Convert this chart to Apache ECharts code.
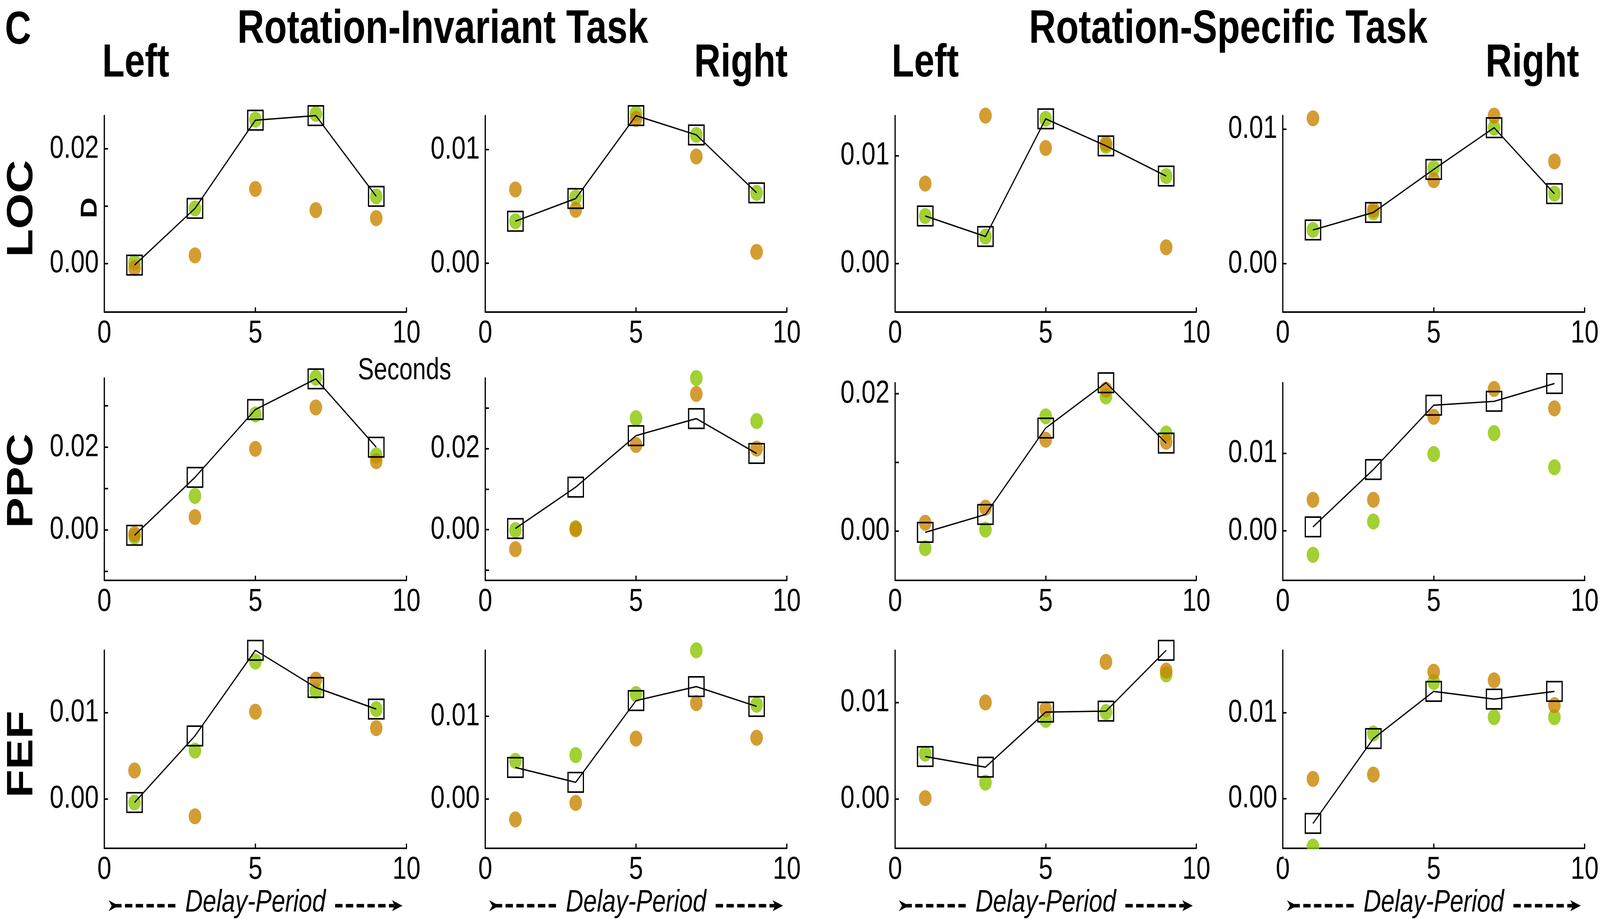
<!DOCTYPE html>
<html><head><meta charset="utf-8">
<script src="https://cdn.jsdelivr.net/npm/echarts@6/dist/echarts.min.js"></script>
<style>
html,body{margin:0;padding:0;background:#fff;overflow:hidden;width:100%;height:100%}
#c{position:absolute;left:0;top:0;width:5200px;height:2353px;transform-origin:0 0}
</style>
</head><body><div id="c"></div>
<script>
// ---- data ----
const xs = [1, 3, 5, 7, 9];
const xTickLabels = [0, 5, 10];

// Rotation-Invariant task
const riLocLeftMean   = [-0.0003, 0.0096, 0.0250, 0.0258, 0.0117];
const riLocLeftGreen  = [0.0002, 0.0096, 0.0251, 0.0261, 0.0117];
const riLocLeftOrange = [-0.0008, 0.0014, 0.0130, 0.0093, 0.0079];
const riLocRightMean   = [0.0037, 0.0057, 0.0130, 0.0113, 0.0062];
const riLocRightGreen  = [0.0037, 0.0058, 0.0132, 0.0113, 0.0062];
const riLocRightOrange = [0.0065, 0.0047, 0.0127, 0.0094, 0.0010];
const riPpcLeftMean   = [-0.0013, 0.0127, 0.0291, 0.0365, 0.0200];
const riPpcLeftGreen  = [-0.0016, 0.0082, 0.0279, 0.0368, 0.0180];
const riPpcLeftOrange = [-0.0010, 0.0031, 0.0196, 0.0296, 0.0166];
const riPpcRightMean   = [0.0003, 0.0105, 0.0232, 0.0274, 0.0188];
const riPpcRightGreen  = [-0.0001, 0.0004, 0.0275, 0.0374, 0.0268];
const riPpcRightOrange = [-0.0048, 0.0001, 0.0209, 0.0335, 0.0200];
const riFefLeftMean   = [-0.0004, 0.0073, 0.0172, 0.0129, 0.0104];
const riFefLeftGreen  = [-0.0004, 0.0056, 0.0159, 0.0125, 0.0104];
const riFefLeftOrange = [0.0033, -0.0020, 0.0101, 0.0138, 0.0082];
const riFefRightMean   = [0.0038, 0.0020, 0.0119, 0.0136, 0.0112];
const riFefRightGreen  = [0.0046, 0.0053, 0.0127, 0.0180, 0.0114];
const riFefRightOrange = [-0.0025, -0.0005, 0.0073, 0.0116, 0.0074];

// Rotation-Specific task
const rsLocLeftMean   = [0.0044, 0.0025, 0.0134, 0.0109, 0.0081];
const rsLocLeftGreen  = [0.0044, 0.0025, 0.0134, 0.0109, 0.0081];
const rsLocLeftOrange = [0.0074, 0.0137, 0.0107, 0.0111, 0.0015];
const rsLocRightMean   = [0.0025, 0.0038, 0.0070, 0.0101, 0.0052];
const rsLocRightGreen  = [0.0025, 0.0038, 0.0071, 0.0101, 0.0052];
const rsLocRightOrange = [0.0108, 0.0040, 0.0062, 0.0110, 0.0076];
const rsPpcLeftMean   = [-0.0002, 0.0024, 0.0150, 0.0216, 0.0128];
const rsPpcLeftGreen  = [-0.0025, 0.0002, 0.0167, 0.0196, 0.0142];
const rsPpcLeftOrange = [0.0012, 0.0034, 0.0133, 0.0206, 0.0130];
const rsPpcRightMean   = [0.0005, 0.0079, 0.0162, 0.0167, 0.0190];
const rsPpcRightGreen  = [-0.0031, 0.0012, 0.0099, 0.0126, 0.0082];
const rsPpcRightOrange = [0.0040, 0.0040, 0.0147, 0.0183, 0.0158];
const rsFefLeftMean   = [0.0044, 0.0033, 0.0090, 0.0091, 0.0154];
const rsFefLeftGreen  = [0.0047, 0.0017, 0.0082, 0.0090, 0.0129];
const rsFefLeftOrange = [0.0001, 0.0100, 0.0093, 0.0142, 0.0133];
const rsFefRightMean   = [-0.0029, 0.0070, 0.0125, 0.0116, 0.0125];
const rsFefRightGreen  = [-0.0056, 0.0076, 0.0136, 0.0095, 0.0095];
const rsFefRightOrange = [0.0023, 0.0028, 0.0148, 0.0138, 0.0109];

// y ranges (row-major: LOC, PPC, FEF; columns RI-L, RI-R, RS-L, RS-R)
const yMins = [-0.0085, -0.0043, -0.0045, -0.0036,
               -0.0122, -0.0125, -0.0072, -0.0064,
               -0.0057, -0.0060, -0.0051, -0.0058];
const yMaxs = [0.0258, 0.0130, 0.0137, 0.0110,
               0.0367, 0.0374, 0.0216, 0.0191,
               0.0172, 0.0180, 0.0154, 0.0173];
const ticksA = [0, 0.01, 0.02];
const ticksB = [0, 0.01];
const ticksC = [-0.01, 0, 0.01, 0.02, 0.03];
const labelsA = [0, 0.02];
const labelsB = [0, 0.01];
const yTicks  = [ticksA, ticksB, ticksB, ticksB, ticksC, ticksC, ticksA, ticksB, ticksB, ticksB, ticksB, ticksB];
const yLabels = [labelsA, labelsB, labelsB, labelsB, labelsA, labelsA, labelsA, labelsB, labelsB, labelsB, labelsB, labelsB];

const meanSets = [riLocLeftMean, riLocRightMean, rsLocLeftMean, rsLocRightMean,
                  riPpcLeftMean, riPpcRightMean, rsPpcLeftMean, rsPpcRightMean,
                  riFefLeftMean, riFefRightMean, rsFefLeftMean, rsFefRightMean];
const greenSets = [riLocLeftGreen, riLocRightGreen, rsLocLeftGreen, rsLocRightGreen,
                   riPpcLeftGreen, riPpcRightGreen, rsPpcLeftGreen, rsPpcRightGreen,
                   riFefLeftGreen, riFefRightGreen, rsFefLeftGreen, rsFefRightGreen];
const orangeSets = [riLocLeftOrange, riLocRightOrange, rsLocLeftOrange, rsLocRightOrange,
                    riPpcLeftOrange, riPpcRightOrange, rsPpcLeftOrange, rsPpcRightOrange,
                    riFefLeftOrange, riFefRightOrange, rsFefLeftOrange, rsFefRightOrange];

// ---- layout: drawn on a 5200 x 2353 canvas, then fitted to the window ----
const box = document.getElementById('c');
const W = window.innerWidth || 5200, H = window.innerHeight || 2353;
box.style.transform = 'scale(' + (W / 5200) + ',' + (H / 2353) + ')';

const FONT = "'Liberation Sans', Arial, Helvetica, sans-serif";
const colLeft  = [339, 1577, 2909, 4169];
const colRight = [1321, 2557, 3888, 5150];
const rowTop = [[296, 296, 296, 296], [968, 968, 980, 980], [1665, 1665, 1665, 1665]];
const rowBottom = [799, 1486, 2172];
const GREEN = '#8AC600';
const ORANGE = '#C98400';

const pair = (ys) => xs.map((x, i) => [x, ys[i]]);

const grids = [], xAxes = [], yAxes = [], series = [];
for (let r = 0; r < 3; r++) {
  for (let c = 0; c < 4; c++) {
    const i = r * 4 + c;
    grids.push({
      left: colLeft[c], top: rowTop[r][c],
      width: colRight[c] - colLeft[c], height: rowBottom[r] - rowTop[r][c],
      containLabel: false, outerBoundsMode: 'none', show: false
    });
    xAxes.push({
      gridIndex: i, type: 'value', min: 0, max: 10,
      axisLine: { show: true, onZero: false, lineStyle: { color: '#000', width: 4 } },
      axisTick: { show: true, inside: true, length: 12, customValues: [5, 10], lineStyle: { color: '#000', width: 4 } },
      axisLabel: { show: true, customValues: xTickLabels, formatter: (v) => String(Math.round(v)),
                   fontSize: 82, fontFamily: FONT, color: '#000', margin: 14 },
      splitLine: { show: false }
    });
    yAxes.push({
      gridIndex: i, type: 'value', min: yMins[i], max: yMaxs[i],
      axisLine: { show: true, onZero: false, lineStyle: { color: '#000', width: 4 } },
      axisTick: { show: true, inside: true, length: 12, customValues: yTicks[i], lineStyle: { color: '#000', width: 4 } },
      axisLabel: { show: true, customValues: yLabels[i], formatter: (v) => Math.abs(v) < 1e-9 ? '0.00' : v.toFixed(2),
                   fontSize: 82, fontFamily: FONT, color: '#000', margin: 18 },
      splitLine: { show: false }
    });
    series.push({
      type: 'scatter', xAxisIndex: i, yAxisIndex: i, data: pair(greenSets[i]),
      symbol: 'circle', symbolSize: 41, itemStyle: { color: GREEN }, clip: false, z: 2, silent: true
    });
    series.push({
      type: 'scatter', xAxisIndex: i, yAxisIndex: i, data: pair(orangeSets[i]),
      symbol: 'circle', symbolSize: 41, itemStyle: { color: ORANGE }, clip: false, z: 3, silent: true
    });
    series.push({
      type: 'line', xAxisIndex: i, yAxisIndex: i, data: pair(meanSets[i]),
      symbol: 'rect', symbolSize: 50, showAllSymbol: true,
      itemStyle: { color: 'rgba(0,0,0,0)', borderColor: '#000', borderWidth: 4 },
      lineStyle: { color: '#000', width: 3.5 }, clip: false, z: 4, silent: true
    });
  }
}

// ---- texts ----
const graphic = [];
const txt = (text, x, y, size, opts = {}) => graphic.push({
  type: 'text', x, y, rotation: opts.rot || 0, silent: true,
  style: { text, x: 0, y: 0, fontSize: size, fontFamily: FONT, fontWeight: opts.bold ? 'bold' : 'normal',
           fontStyle: opts.italic ? 'italic' : 'normal', fill: '#000',
           align: opts.align || 'left', verticalAlign: 'middle' }
});
txt('C', 16, 79, 118, { bold: true });
txt('Rotation-Invariant Task', 1439, 77, 121, { bold: true, align: 'center' });
txt('Rotation-Specific Task', 3992, 77, 121, { bold: true, align: 'center' });
txt('Left', 332, 163, 119, { bold: true });
txt('Right', 2560, 163, 119, { bold: true, align: 'right' });
txt('Left', 2898, 163, 119, { bold: true });
txt('Right', 5132, 163, 119, { bold: true, align: 'right' });
txt('LOC', 72, 534, 118, { bold: true, align: 'center', rot: Math.PI / 2 });
txt('PPC', 72, 1231, 118, { bold: true, align: 'center', rot: Math.PI / 2 });
txt('FEF', 72, 1931, 118, { bold: true, align: 'center', rot: Math.PI / 2 });
txt('D', 294, 532, 74, { bold: true, align: 'center', rot: Math.PI / 2 });
txt('Seconds', 1163, 949, 78, {});

// mask: the bottom-right FEF panel clips its lowest dot at the axis line
graphic.push({ type: 'rect', silent: true, z: 100, shape: { x: 4172, y: 2174.5, width: 120, height: 24 },
               style: { fill: '#fff' } });

// Delay-Period labels with dashed arrows
const ay = 2319;
for (let c = 0; c < 4; c++) {
  const cx = (colLeft[c] + colRight[c]) / 2;
  txt('Delay-Period', cx, 2312, 79, { italic: true, align: 'center' });
  const l0 = cx - 477, l1 = cx - 259, r0 = cx + 259, r1 = cx + 478;
  graphic.push({ type: 'polyline', silent: true, shape: { points: [[l0 + 18, ay], [l1, ay]] },
                 style: { stroke: '#000', lineWidth: 9, lineDash: [24, 11], fill: null } });
  graphic.push({ type: 'polygon', silent: true,
                 shape: { points: [[l0, ay - 14], [l0 + 32, ay], [l0, ay + 14], [l0 + 10, ay]] },
                 style: { fill: '#000' } });
  graphic.push({ type: 'polyline', silent: true, shape: { points: [[r0, ay], [r1 - 26, ay]] },
                 style: { stroke: '#000', lineWidth: 9, lineDash: [24, 11], fill: null } });
  graphic.push({ type: 'polygon', silent: true,
                 shape: { points: [[r1 - 34, ay - 14], [r1, ay], [r1 - 34, ay + 14], [r1 - 25, ay]] },
                 style: { fill: '#000' } });
}

const chart = echarts.init(box, null, { renderer: 'canvas', width: 5200, height: 2353 });
chart.setOption({
  animation: false,
  backgroundColor: '#fff',
  grid: grids, xAxis: xAxes, yAxis: yAxes, series, graphic
});
</script></body></html>
